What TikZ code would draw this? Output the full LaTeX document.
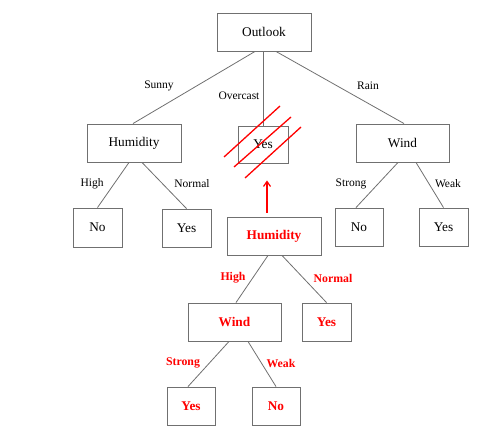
\documentclass[tikz,border=0pt]{standalone}
\usepackage{fontspec}
\setmainfont{Liberation Serif}
\usetikzlibrary{arrows.meta}
\definecolor{edgegray}{HTML}{707070}
\definecolor{hotred}{HTML}{FF0000}
\tikzset{
  box/.style={draw=edgegray, line width=0.9pt, rectangle, inner sep=0pt,
    font=\fontsize{13.3}{15}\selectfont},
  redbox/.style={box, text=hotred, font=\fontsize{13.3}{15}\selectfont\bfseries},
  edge/.style={draw=edgegray, line width=0.8pt},
  lbl/.style={font=\fontsize{11.5}{13}\selectfont, inner sep=0pt},
  redlbl/.style={font=\fontsize{11.8}{13}\selectfont\bfseries, text=hotred, inner sep=0pt},
  slash/.style={draw=hotred, line width=1.3pt},
  redarrow/.style={draw=hotred, line width=1.2pt, -{Straight Barb[length=5pt,width=7pt]}}
}
\begin{document}
\begin{tikzpicture}[x=1pt,y=-1pt]
\useasboundingbox (0,0) rectangle (500,434);
% top tree
\node[box, minimum width=94pt, minimum height=38pt] (outlook) at (264,32) {Outlook};
\node[box, minimum width=94pt, minimum height=38pt] (hum) at (134,143) {Humidity};
\node[box, minimum width=50pt, minimum height=37pt] (yesO) at (263,144.5) {Yes};
\node[box, minimum width=93pt, minimum height=38pt] (wind) at (402.5,143) {Wind};
\node[box, minimum width=49pt, minimum height=39pt] (noH) at (97.5,227.5) {No};
\node[box, minimum width=49pt, minimum height=38pt] (yesH) at (186.5,228) {Yes};
\node[box, minimum width=48pt, minimum height=38pt] (noW) at (359,227) {No};
\node[box, minimum width=49pt, minimum height=38pt] (yesW) at (443.5,227) {Yes};
% edges
\draw[edge] ([xshift=-9pt]outlook.south) -- ([xshift=-1pt]hum.north);
\draw[edge] ([xshift=-1pt]outlook.south) -- (yesO.north);
\draw[edge] ([xshift=12pt]outlook.south) -- ([xshift=1.5pt]wind.north);
\draw[edge] ([xshift=-5pt]hum.south) -- (noH.north);
\draw[edge] ([xshift=8pt]hum.south) -- (yesH.north);
\draw[edge] ([xshift=-4.5pt]wind.south) -- ([xshift=-3pt]noW.north);
\draw[edge] ([xshift=13.5pt]wind.south) -- (yesW.north);
% labels
\node[lbl] (lsunny) at (159,86) {Sunny};
\node[lbl] (lover) at (239,96) {Overcast};
\node[lbl] (lrain) at (368,86) {Rain};
\node[lbl] (lhigh) at (92,184) {High};
\node[lbl] (lnorm) at (192,184) {Normal};
\node[lbl] (lstrong) at (351,184) {Strong};
\node[lbl] (lweak) at (448,184) {Weak};
% red slashes over Yes
\draw[slash] (224,157) -- (280,106);
\draw[slash] (234,167) -- (291,117);
\draw[slash] (245,178) -- (301,127);
% red subtree
\node[redbox, minimum width=94pt, minimum height=38pt] (rhum) at (274,236) {Humidity};
\node[redbox, minimum width=93pt, minimum height=38pt] (rwind) at (234.5,322) {Wind};
\node[redbox, minimum width=49pt, minimum height=38pt] (ryes) at (326.5,322) {Yes};
\node[redbox, minimum width=48pt, minimum height=38pt] (ryes2) at (191,406) {Yes};
\node[redbox, minimum width=48pt, minimum height=38pt] (rno) at (276,406) {No};
\draw[edge] ([xshift=-6pt]rhum.south) -- ([xshift=1.5pt]rwind.north);
\draw[edge] ([xshift=8pt]rhum.south) -- (ryes.north);
\draw[edge] ([xshift=-5.5pt]rwind.south) -- ([xshift=-3pt]ryes2.north);
\draw[edge] ([xshift=13.5pt]rwind.south) -- (rno.north);
\node[redlbl] (rhigh) at (233,278) {High};
\node[redlbl] (rnorm) at (333,278) {Normal};
\node[redlbl] (rstrong) at (183,363) {Strong};
\node[redlbl] (rweak) at (281,363) {Weak};
\draw[redarrow] ([xshift=-7pt,yshift=4pt]rhum.north) -- ([xshift=4pt,yshift=-17pt]yesO.south);
\end{tikzpicture}
\end{document}
